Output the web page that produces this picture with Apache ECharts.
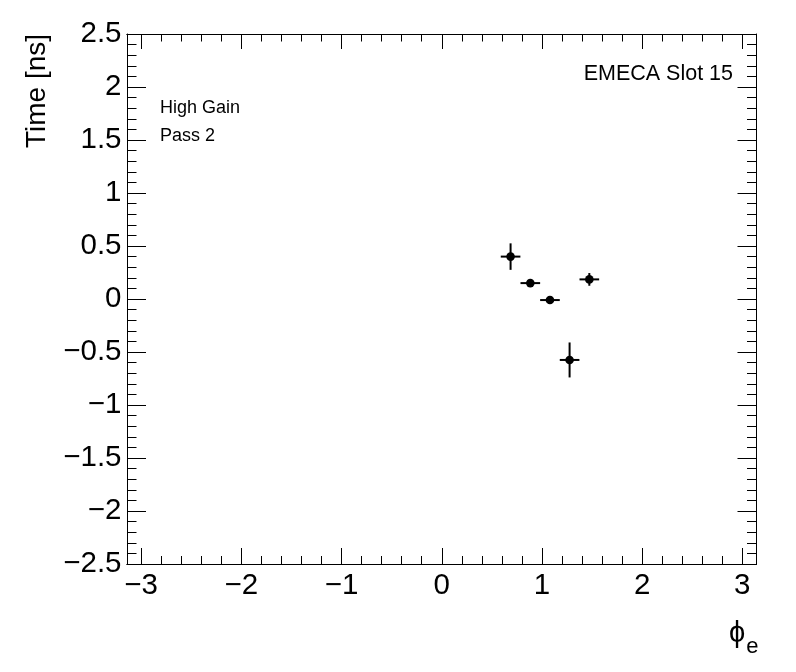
<!DOCTYPE html>
<html><head><meta charset="utf-8">
<script src="https://cdn.jsdelivr.net/npm/echarts@6/dist/echarts.min.js"></script>
<style>html,body{margin:0;padding:0;background:#fff}#c{width:796px;height:672px}</style>
</head><body><div id="c"></div>
<script>
// Data
const phiCenters = [0.687, 0.884, 1.080, 1.276, 1.473];
const phiErrors  = [0.098, 0.098, 0.098, 0.098, 0.098];
const timeValues = [0.40, 0.15, -0.01, -0.575, 0.185];
const timeErrors = [0.125, 0.03, 0.03, 0.165, 0.06];
// Tick labels
const xMajorTicks = [-3, -2, -1, 0, 1, 2, 3];
const xMinorTicks = [];
for (let i = -14; i <= 14; i++) { if (i % 5 !== 0) xMinorTicks.push(+(i * 0.2).toFixed(1)); }
const yMin = -2.5, yMax = 2.5, yStep = 0.5;
const xMin = -Math.PI, xMax = Math.PI;
const labelsText = { left1: 'High Gain', left2: 'Pass 2', right: 'EMECA Slot 15' };

const FONT = 'Liberation Sans, Arial, Helvetica, sans-serif';
const fmt = v => (v < 0 ? '\u2212' + String(Math.abs(v)) : String(v));

const points = phiCenters.map((x, i) => [x, timeValues[i], phiErrors[i], timeErrors[i]]);

function xAx(pos, ticks, len, labels) {
  return {
    type: 'value', position: pos, min: xMin, max: xMax,
    axisLine: { show: true, onZero: false, lineStyle: { color: '#000', width: 1 } },
    axisTick: { show: true, inside: true, length: len, customValues: ticks, lineStyle: { color: '#000', width: 1 } },
    axisLabel: labels ? { show: true, customValues: ticks, formatter: fmt, fontSize: 29.5, fontFamily: FONT, color: '#000', margin: 7 } : { show: false },
    splitLine: { show: false }
  };
}
function yAx(pos, labels) {
  return {
    type: 'value', position: pos, min: yMin, max: yMax, interval: yStep,
    axisLine: { show: true, onZero: false, lineStyle: { color: '#000', width: 1 } },
    axisTick: { show: true, inside: true, length: 19, lineStyle: { color: '#000', width: 1 } },
    minorTick: { show: true, splitNumber: 5, length: 9.5, lineStyle: { color: '#000', width: 1 } },
    axisLabel: labels ? { show: true, formatter: fmt, fontSize: 29.5, fontFamily: FONT, color: '#000', margin: 5.5 } : { show: false },
    splitLine: { show: false }, minorSplitLine: { show: false }
  };
}

const chart = echarts.init(document.getElementById('c'), null, { renderer: 'canvas' });
chart.setOption({
  animation: false,
  backgroundColor: '#fff',
  grid: { left: 127, right: 39.5, top: 34, bottom: 108, containLabel: false },
  xAxis: [
    xAx('bottom', xMajorTicks, 16, true),
    xAx('bottom', xMinorTicks, 8, false),
    xAx('top', xMajorTicks, 15, false),
    xAx('top', xMinorTicks, 7.5, false)
  ],
  yAxis: [yAx('left', true), yAx('right', false)],
  series: [{
    type: 'custom', xAxisIndex: 0, yAxisIndex: 0, data: points,
    renderItem: function (params, api) {
      const x = api.value(0), y = api.value(1), ex = api.value(2), ey = api.value(3);
      const c = api.coord([x, y]);
      const l = api.coord([x - ex, y]), r = api.coord([x + ex, y]);
      const t = api.coord([x, y + ey]), b = api.coord([x, y - ey]);
      return {
        type: 'group', children: [
          { type: 'line', shape: { x1: l[0], y1: l[1], x2: r[0], y2: r[1] }, style: { stroke: '#000', lineWidth: 2 } },
          { type: 'line', shape: { x1: t[0], y1: t[1], x2: b[0], y2: b[1] }, style: { stroke: '#000', lineWidth: 2 } },
          { type: 'circle', shape: { cx: c[0], cy: c[1], r: 4.3 }, style: { fill: '#000' } }
        ]
      };
    }
  }],
  graphic: [
    { type: 'text', left: 160, top: 99, style: { text: labelsText.left1, font: '18px ' + FONT, fill: '#000' } },
    { type: 'text', left: 160, top: 127, style: { text: labelsText.left2, font: '18px ' + FONT, fill: '#000' } },
    { type: 'text', right: 63, top: 63, style: { text: labelsText.right, font: '21.5px ' + FONT, fill: '#000' } },
    { type: 'text', x: 37, y: 91, rotation: Math.PI / 2,
      style: { text: 'Time [ns]', font: '28px ' + FONT, fill: '#000', align: 'center', verticalAlign: 'middle' } },
    { type: 'text', x: 729, y: 619,
      style: { text: '{a|\u03D5}{b|e}', fill: '#000',
        rich: { a: { fontSize: 29, fontFamily: FONT, verticalAlign: 'top' }, b: { fontSize: 22, fontFamily: FONT, padding: [17, 0, 0, 1] } } } }
  ]
});
</script>
</body></html>
